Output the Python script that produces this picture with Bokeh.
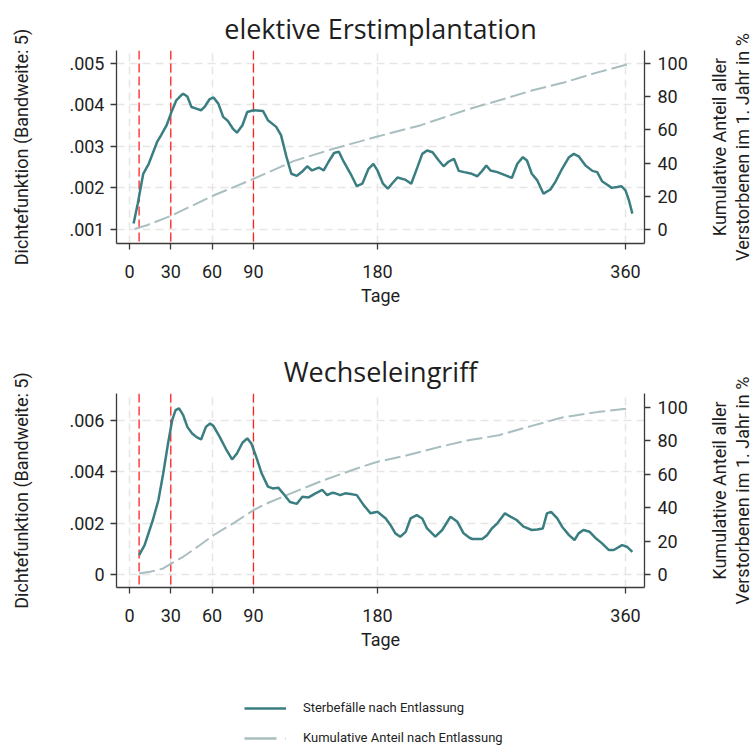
from bokeh.plotting import figure
from bokeh.models import (Range1d, LinearAxis, FixedTicker, CustomJSTickFormatter,
                          Span, Legend, LegendItem, Title)
from bokeh.layouts import column, row
from bokeh.embed import file_html
from bokeh.resources import INLINE

# ---------------- data ----------------
x_ticks = [0, 30, 60, 90, 180, 360]
marker_days = [7, 30, 90]
cum_ticks = [0, 20, 40, 60, 80, 100]

title_top = "elektive Erstimplantation"
title_bottom = "Wechseleingriff"
label_left = "Dichtefunktion (Bandweite: 5)"
label_right_lines = ["Kumulative Anteil aller", "Verstorbenen im 1. Jahr in %"]
label_x = "Tage"
legend_labels = ["Sterbefälle nach Entlassung", "Kumulative Anteil nach Entlassung"]

# top panel: elektive Erstimplantation
top_days = [3, 6, 10, 14, 20, 23, 27, 30.5, 34, 37.5, 39, 42, 45, 48.5, 52, 54.5, 58, 61,
            64.5, 68, 71.5, 75, 78, 82, 85.5, 90, 97, 100.5, 106.5, 110, 114, 117.5, 121.5,
            125, 129, 132.5, 137.5, 141, 144.5, 148.5, 152, 155.5, 160.5, 165, 169, 173.5,
            177, 180, 184, 187.5, 190.5, 194.5, 200, 204.5, 209, 212.5, 216, 220, 224.5, 228,
            231.5, 235.5, 239, 243, 248.5, 252.5, 256, 259, 262, 267, 273, 277.5, 281.5,
            285.5, 288.5, 292, 296, 300.5, 305.5, 309, 314, 319, 322.5, 326, 331, 336, 339.5,
            343, 346.5, 350, 354, 357, 360, 362.5, 365]
top_density = [.00114, .00162, .00234, .00258, .00310, .00327, .00351, .00383, .00411, .00423,
               .00427, .00420, .00395, .00391, .00387, .00395, .00413, .00418, .00403, .00371,
               .00361, .00343, .00333, .00351, .00383, .00387, .00385, .00363, .00347, .00327,
               .00274, .00234, .00229, .00238, .00252, .00242, .00249, .00242, .00263, .00284,
               .00287, .00263, .00234, .00204, .00210, .00246, .00258, .00242, .00210, .00198,
               .00210, .00225, .00220, .00210, .00250, .00282, .00290, .00286, .00266, .00252,
               .00263, .00270, .00241, .00238, .00234, .00228, .00241, .00254, .00242, .00238,
               .00230, .00224, .00258, .00274, .00266, .00234, .00218, .00186, .00196, .00214,
               .00246, .00274, .00282, .00276, .00254, .00241, .00238, .00216, .00208, .00200,
               .00202, .00204, .00194, .00170, .00138]
top_cum_days = [3.8, 12, 30.5, 61, 90, 119, 148, 180, 211, 245, 268, 292, 316, 340.5, 364]
top_cum_pct = [0.4, 2.4, 8.4, 20.5, 30.5, 41.2, 48.6, 56, 62.7, 72.2, 77.7, 83.7, 88.7, 94.8, 100]
top_yticks = [.001, .002, .003, .004, .005]

# bottom panel: Wechseleingriff
bot_days = [7, 11, 17, 21, 24.5, 28, 31, 33.5, 36, 39, 42, 45.5, 49, 52, 55.5, 58.5, 61, 65.5,
            70.5, 74.5, 78, 82, 85.5, 88.5, 92, 96, 100.5, 104, 108, 111.5, 116.5, 121.5,
            125.5, 130, 135, 140, 143.5, 147, 149.5, 153, 156.5, 160.5, 165, 170, 175, 180,
            186, 189.5, 193, 196.5, 200.5, 204, 208.5, 212.5, 216, 222, 227, 233, 238, 242.5,
            247, 249, 256, 259.5, 263, 267, 272.5, 276.5, 281, 286, 292, 296, 300, 303, 306,
            310.5, 314, 319, 323, 326, 329.5, 334, 338, 343, 348, 351.5, 357.5, 361, 365]
bot_density = [.00075, .00114, .00212, .00289, .00393, .00510, .00601, .00640, .00647, .00621,
               .00575, .00549, .00534, .00526, .00575, .00588, .00578, .00536, .00484, .00448,
               .00471, .00513, .00530, .00510, .00458, .00393, .00342, .00335, .00338, .00316,
               .00282, .00275, .00303, .00300, .00316, .00329, .00309, .00318, .00316, .00309,
               .00316, .00313, .00309, .00270, .00238, .00244, .00218, .00192, .00160, .00147,
               .00166, .00218, .00231, .00218, .00179, .00147, .00173, .00225, .00205, .00160,
               .00142, .00138, .00138, .00153, .00179, .00199, .00238, .00225, .00212, .00186,
               .00173, .00175, .00179, .00238, .00244, .00218, .00186, .00153, .00134, .00160,
               .00173, .00166, .00143, .00121, .00095, .00095, .00114, .00108, .00088]
bot_cum_days = [7, 15, 24.5, 30.5, 39, 51, 61, 75, 90, 99.5, 119, 141, 165, 180, 201.5, 225.5,
                246, 268, 292, 314, 340.5, 362.5]
bot_cum_pct = [0.6, 1.6, 3.6, 6.6, 10.6, 17.5, 23.5, 30.5, 38.5, 42.5, 49.2, 56.5, 63.5, 67.5,
               71.4, 76.5, 80.4, 83.4, 89, 94, 97.4, 99.4]
bot_yticks = [0, .002, .004, .006]

# ---------------- style ----------------
TEAL = "#3b7e81"
GREY = "#a9bec0"
RED = "#ff2020"
GRID = "#e6e6e6"
AXIS = "#3a3a3a"
TXT = "#1e1e1e"
FONT = "Roboto"
W = 752
STRIP = 42
MAIN_W = W - STRIP

fmt = CustomJSTickFormatter(code="""
if (Math.abs(tick) < 1e-12) { return '0'; }
return tick.toFixed(3).replace(/^0/, '');
""")


def panel(title, days, dens, cdays, cpct, yticks, yrange, crange, btop, bbot, height):
    p = figure(width=MAIN_W, height=height, x_range=Range1d(-9.4, 373.8),
               y_range=Range1d(*yrange), output_backend="svg", toolbar_location=None,
               min_border_left=116, min_border_right=MAIN_W - 116 - 528,
               min_border_top=btop, min_border_bottom=bbot)
    p.outline_line_color = None
    p.background_fill_color = "white"
    p.border_fill_color = "white"
    p.extra_y_ranges = {"cum": Range1d(*crange)}

    p.title.text = title
    p.title.align = "center"
    p.title.text_font = "Open Sans"
    p.title.text_font_size = "27px"
    p.title.text_font_style = "normal"
    p.title.text_color = TXT
    p.title.standoff = 8

    p.xgrid.ticker = FixedTicker(ticks=x_ticks)
    p.ygrid.ticker = FixedTicker(ticks=yticks)
    for g in (p.xgrid, p.ygrid):
        g.grid_line_color = GRID
        g.grid_line_dash = "8 5"
        g.grid_line_width = 1.5

    for v in marker_days:
        p.add_layout(Span(location=v, dimension="height", line_color=RED,
                          line_dash="9 4", line_width=1.3, level="underlay"))

    p.line(cdays, cpct, y_range_name="cum", line_color=GREY, line_width=2,
           line_dash="16 5")
    p.line(days, dens, line_color=TEAL, line_width=2.5)

    rax = LinearAxis(y_range_name="cum", ticker=FixedTicker(ticks=cum_ticks))
    p.add_layout(rax, "right")

    p.xaxis.ticker = FixedTicker(ticks=x_ticks)
    p.xaxis.axis_label = label_x
    p.yaxis[0].ticker = FixedTicker(ticks=yticks)
    p.yaxis[0].formatter = fmt
    p.yaxis[0].axis_label = label_left

    for ax in p.xaxis + p.yaxis:
        ax.axis_line_color = AXIS
        ax.axis_line_width = 1.3
        ax.major_tick_line_color = AXIS
        ax.major_tick_line_width = 1.3
        ax.major_tick_out = 6
        ax.major_tick_in = 0
        ax.minor_tick_line_color = None
        ax.major_label_text_font = FONT
        ax.major_label_text_font_size = "18px"
        ax.major_label_text_color = TXT
        ax.axis_label_text_font = FONT
        ax.axis_label_text_font_size = "18px"
        ax.axis_label_text_font_style = "normal"
        ax.axis_label_text_color = TXT
    p.xaxis.major_label_standoff = 15
    p.xaxis.axis_label_standoff = 4
    p.yaxis[0].axis_label_standoff = 34
    p.yaxis[0].major_label_standoff = 6
    rax.major_label_standoff = 7
    return p


def label_strip(height, btop, bbot):
    # narrow strip whose left-side titles form the right-hand axis title (bottom-to-top)
    s = figure(width=STRIP, height=height, x_range=Range1d(0, 1), y_range=Range1d(0, 1),
               output_backend="svg", toolbar_location=None,
               min_border_left=STRIP - 2, min_border_right=0,
               min_border_top=btop, min_border_bottom=bbot,
               x_axis_location=None, y_axis_location=None)
    s.outline_line_color = None
    s.xgrid.visible = False
    s.ygrid.visible = False
    for txt in reversed(label_right_lines):   # first added sits next to the frame
        s.add_layout(Title(text=txt, align="center", text_font=FONT,
                           text_font_size="18px", text_font_style="normal",
                           text_color=TXT, standoff=0, offset=0), "left")
    return s


p1 = panel(title_top, top_days, top_density, top_cum_days, top_cum_pct, top_yticks,
           (.00066, .00531), (-8.4, 107.8), 50, 95, 338)
p2 = panel(title_bottom, bot_days, bot_density, bot_cum_days, bot_cum_pct, bot_yticks,
           (-.00051, .00705), (-7.8, 108.4), 55, 68, 317)
s1 = label_strip(338, 50, 95)
s2 = label_strip(317, 55, 68)

# legend strip: its lines use the real series but lie outside the visible range
p3 = figure(width=W, height=90, x_range=Range1d(0, 1), y_range=Range1d(1, 2),
            output_backend="svg", toolbar_location=None, min_border=0,
            x_axis_location=None, y_axis_location=None)
p3.outline_line_color = None
p3.xgrid.visible = False
p3.ygrid.visible = False
r1 = p3.line(top_days, top_density, line_color=TEAL, line_width=2.5)
r2 = p3.line(top_cum_days, top_density[:len(top_cum_days)], line_color=GREY,
             line_width=2.5, line_dash="32 9")
leg = Legend(items=[LegendItem(label=legend_labels[0], renderers=[r1]),
                    LegendItem(label=legend_labels[1], renderers=[r2])],
             location=(244, 0), orientation="vertical")
leg.border_line_color = None
leg.background_fill_alpha = 0
leg.padding = 0
leg.margin = 0
leg.spacing = 15
leg.glyph_width = 42
leg.glyph_height = 14
leg.label_height = 14
leg.label_standoff = 17
leg.label_text_font = FONT
leg.label_text_font_size = "13px"
leg.label_text_color = TXT
p3.add_layout(leg)

layout = column(row(p1, s1, spacing=0), row(p2, s2, spacing=0), p3, spacing=0)
open("out.html", "w").write(file_html(layout, INLINE))
